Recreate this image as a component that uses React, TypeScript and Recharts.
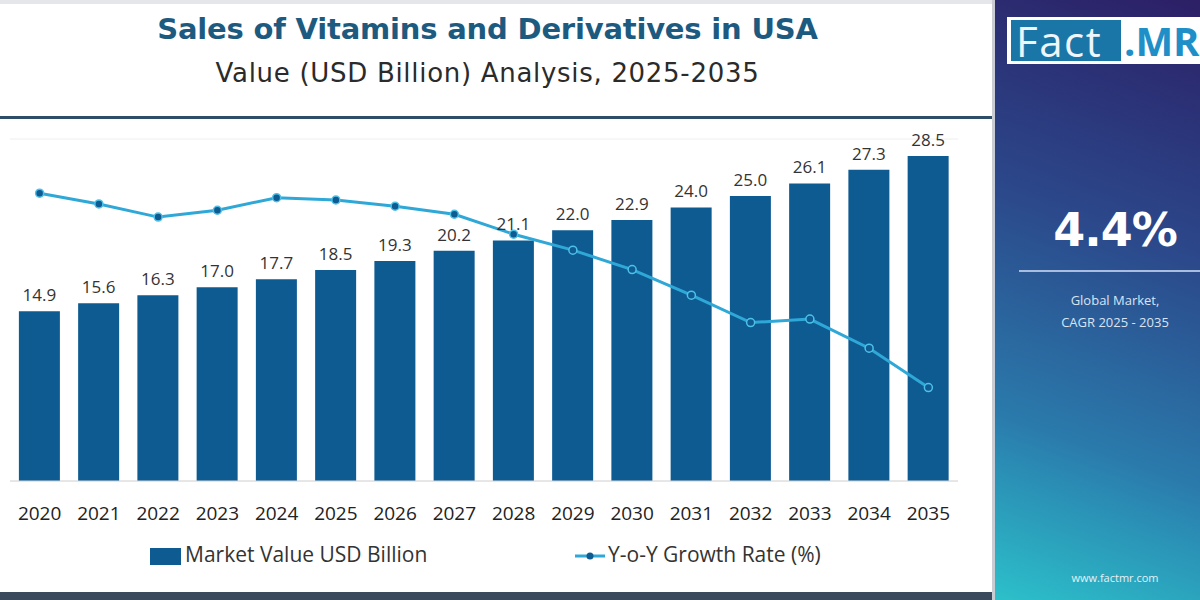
import React from "react";
import { ComposedChart, Bar, Line, XAxis, YAxis, CartesianGrid, LabelList } from "recharts";

const years = ["2020", "2021", "2022", "2023", "2024", "2025", "2026", "2027", "2028", "2029", "2030", "2031", "2032", "2033", "2034", "2035"];
const marketValue = [14.9, 15.6, 16.3, 17.0, 17.7, 18.5, 19.3, 20.2, 21.1, 22.0, 22.9, 24.0, 25.0, 26.1, 27.3, 28.5];
const yoyGrowth = [5.05, 4.86, 4.63, 4.75, 4.97, 4.93, 4.82, 4.68, 4.33, 4.05, 3.71, 3.26, 2.78, 2.84, 2.33, 1.64];

const BAR_COLOR = "#0d5b91";
const LINE_COLOR = "#2fa8d8";
const FONT = "'Open Sans', sans-serif";
const HEAD_FONT = "'DejaVu Sans', sans-serif";

const chartData = years.map((year, i) => ({
  year,
  value: marketValue[i],
  growth: yoyGrowth[i],
}));

const App: React.FC = () => {
  return (
    <div
      style={{
        position: "absolute",
        left: 0,
        top: 0,
        width: 1200,
        height: 600,
        overflow: "hidden",
        background: "#fff",
        fontFamily: FONT,
      }}
    >
      <div style={{ position: "absolute", left: 0, top: 0, width: 1200, height: 4, background: "#e4e6ea" }} />
      <div
        style={{
          position: "absolute",
          left: 0,
          top: 12,
          width: 975,
          textAlign: "center",
          fontSize: 29,
          fontWeight: 700,
          color: "#1d5a80",
          fontFamily: HEAD_FONT,
          letterSpacing: -0.2,
        }}
      >
        Sales of Vitamins and Derivatives in USA
      </div>
      <div
        style={{
          position: "absolute",
          left: 0,
          top: 58,
          width: 975,
          textAlign: "center",
          fontSize: 26,
          color: "#2b2b2b",
          fontFamily: HEAD_FONT,
          letterSpacing: 0.7,
        }}
      >
        Value (USD Billion) Analysis, 2025-2035
      </div>
      <div style={{ position: "absolute", left: 0, top: 116, width: 995, height: 3, background: "#2d4d69" }} />

      <div style={{ position: "absolute", left: 0, top: 0 }}>
        <ComposedChart
          width={990}
          height={600}
          data={chartData}
          margin={{ top: 139, right: 32, bottom: 79, left: 10 }}
          barCategoryGap="15%"
        >
          <CartesianGrid vertical={false} stroke="#eeeeee" />
          <XAxis
            dataKey="year"
            height={40}
            tickLine={false}
            axisLine={{ stroke: "#d6d6d6" }}
            tickMargin={20}
            tick={{ fill: "#222", fontSize: 19, fontFamily: FONT }}
            interval={0}
          />
          <YAxis yAxisId="left" hide domain={[0, 30]} ticks={[0, 5, 10, 15, 20, 25, 30]} />
          <YAxis yAxisId="right" orientation="right" hide domain={[0, 6]} />
          <Bar yAxisId="left" dataKey="value" fill={BAR_COLOR} isAnimationActive={false}>
            <LabelList
              dataKey="value"
              position="top"
              offset={10}
              formatter={(v: number) => v.toFixed(1)}
              style={{ fill: "#333", fontSize: 17, fontFamily: FONT }}
            />
          </Bar>
          <Line
            yAxisId="right"
            dataKey="growth"
            stroke={LINE_COLOR}
            strokeWidth={3}
            dot={{ r: 4, fill: BAR_COLOR, stroke: "#4fc0e8", strokeWidth: 1.5 }}
            isAnimationActive={false}
          />
        </ComposedChart>
      </div>

      {/* legend */}
      <div style={{ position: "absolute", left: 150, top: 548, width: 31, height: 17, background: BAR_COLOR }} />
      <div style={{ position: "absolute", left: 185, top: 540, fontSize: 21, color: "#333" }}>Market Value USD Billion</div>
      <svg style={{ position: "absolute", left: 573, top: 546 }} width={34} height={20}>
        <line x1={2} y1={10} x2={32} y2={10} stroke={LINE_COLOR} strokeWidth={3} />
        <circle cx={17} cy={10} r={3.5} fill={BAR_COLOR} />
      </svg>
      <div style={{ position: "absolute", left: 608, top: 540, fontSize: 21, color: "#333" }}>Y-o-Y Growth Rate (%)</div>

      <div style={{ position: "absolute", left: 0, top: 592, width: 995, height: 8, background: "#3b4a5c" }} />

      {/* right panel */}
      <div
        style={{
          position: "absolute",
          left: 992,
          top: 0,
          width: 208,
          height: 600,
          borderLeft: "3px solid #c9ccd2",
          background: "linear-gradient(200deg, #2c1f66 0%, #2b4a8c 40%, #2a7aac 72%, #2cc0ca 100%)",
          overflow: "hidden",
        }}
      >
        <div
          style={{
            position: "absolute",
            left: 12,
            top: 17,
            width: 220,
            height: 47,
            background: "#fff",
          }}
        >
          <div
            style={{
              position: "absolute",
              left: 4,
              top: 3,
              width: 110,
              height: 41,
              background: "#1b76a8",
              color: "#eef6fb",
              fontSize: 42,
              lineHeight: "41px",
              fontFamily: FONT,
              paddingLeft: 5,
              letterSpacing: 1.5,
              boxSizing: "border-box",
            }}
          >
            Fact
          </div>
          <div
            style={{
              position: "absolute",
              left: 117,
              top: 3,
              fontSize: 40,
              lineHeight: "41px",
              fontWeight: 700,
              color: "#1f8fc8",
              fontFamily: FONT,
            }}
          >
            .MR
          </div>
        </div>
        <div
          style={{
            position: "absolute",
            left: 0,
            top: 203,
            width: 240,
            textAlign: "center",
            fontSize: 46,
            fontWeight: 700,
            color: "#fff",
            fontFamily: HEAD_FONT,
            letterSpacing: -1,
          }}
        >
          4.4%
        </div>
        <div style={{ position: "absolute", left: 24, top: 270, width: 200, height: 2, background: "#a9bde0" }} />
        <div
          style={{
            position: "absolute",
            left: 0,
            top: 289,
            width: 240,
            textAlign: "center",
            fontSize: 13,
            lineHeight: "22px",
            color: "#d9e3f2",
          }}
        >
          Global Market,
          <br />
          CAGR 2025 - 2035
        </div>
        <div
          style={{
            position: "absolute",
            left: 0,
            top: 570,
            width: 240,
            textAlign: "center",
            fontSize: 11,
            color: "#e6f0f5",
          }}
        >
          www.factmr.com
        </div>
      </div>
    </div>
  );
};

export default App;
